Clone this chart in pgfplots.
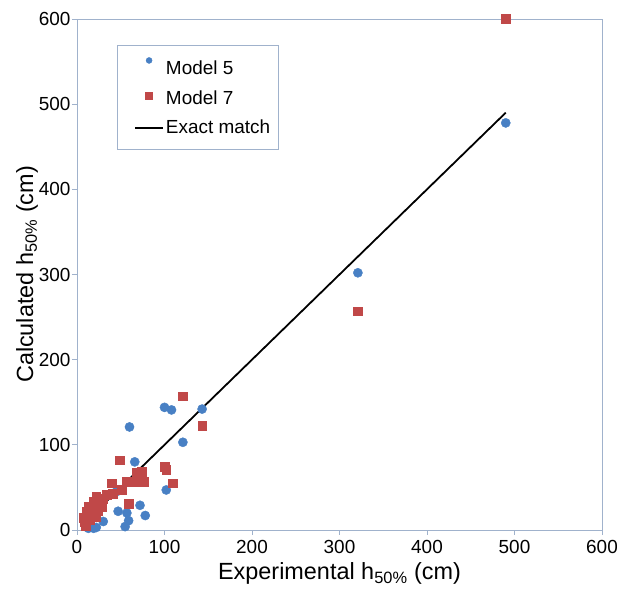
\documentclass[border=0pt]{standalone}
\usepackage{pgfplots}
\pgfplotsset{compat=1.18}
\usepackage{fontspec}
\setmainfont{Liberation Sans}
\definecolor{mblue}{RGB}{72,128,196}
\definecolor{mred}{RGB}{192,72,72}
\definecolor{axcol}{RGB}{160,178,204}
\begin{document}
\begin{tikzpicture}
\begin{axis}[
  name=ax,
  scale only axis,
  width=525bp, height=511bp,
  xmin=0, xmax=600, ymin=0, ymax=600,
  xtick={0,100,...,600}, ytick={0,100,...,600},
  tick align=outside, xtick pos=bottom, ytick pos=left,
  major tick length=5bp,
  axis line style={axcol, line width=0.8bp},
  every tick/.style={axcol, line width=0.8bp},
  ticklabel style={font=\fontsize{19}{22}\selectfont},
  xticklabel style={yshift=-2bp},
  yticklabel style={xshift=2bp},
  /pgf/number format/assume math mode=true,
  xlabel={Experimental h\textsubscript{50\%} (cm)},
  ylabel={Calculated h\textsubscript{50\%} (cm)},
  label style={font=\fontsize{23.5}{27}\selectfont},
  xlabel style={yshift=-2bp},
  ylabel style={yshift=-6bp},
  clip=false,
  legend style={at={(0.076,0.949)}, anchor=north west, draw=axcol,
    font=\fontsize{19}{22}\selectfont, row sep=10.5bp,
    inner xsep=6bp, inner ysep=12bp, cells={anchor=west}},
  legend cell align=left,
]
\addplot[only marks, mark=*, mark size=4.6bp, mark options={fill=mblue, draw=mblue},
  legend image code/.code={\path[draw=none, fill=none] (-12bp,0bp) -- (28bp,0bp); \fill[mblue] (14bp,8bp) circle (3bp);}]
  coordinates {
  (100,144)(108,141)(143,142)(60,121)(121,103)(66,80)(102,47)(72,29)
  (78,17)(47,22)(57,20)(59,11)(55,4)(30,10)(13,2)(19,2)(22,3)(45,45)
  (11,8)(321,302)(490,478)
  };
\addlegendentry{Model 5}
\addplot[only marks, mark=square*, mark size=4.4bp, mark options={fill=mred, draw=mred},
  legend image code/.code={\path[draw=none, fill=none] (-12bp,0bp) -- (28bp,0bp); \fill[mred] (10.5bp,-1.5bp) rectangle ++(7bp,7bp);}]
  coordinates {
  (121,157)(143,122)(49,82)(100,74)(102,71)(109,55)(68,67)(74,68)
  (40,55)(57,57)(68,57)(76,57)(51,47)(41,43)(34,41)(30,37)(22,39)
  (19,33)(26,31)(59,31)(13,27)(21,25)(11,22)(17,20)(11,16)(15,12)
  (9,10)(21,16)(24,22)(28,27)(10,5)(12,18)(8,14)(321,257)(490,600)
  };
\addlegendentry{Model 7}
\addplot[black, line width=1.8bp,
  legend image code/.code={\path[draw=none, fill=none] (-12bp,0bp) -- (28bp,0bp); \draw[black, line width=1.8bp] (0bp,0bp) -- (28bp,0bp);}]
  coordinates {(10,10)(490,490)};
\addlegendentry{Exact match}
\end{axis}
\pgfresetboundingbox
\path ([shift={(-77bp,-60bp)}]ax.south west) rectangle ([shift={(15bp,19bp)}]ax.north east);
\end{tikzpicture}
\end{document}
